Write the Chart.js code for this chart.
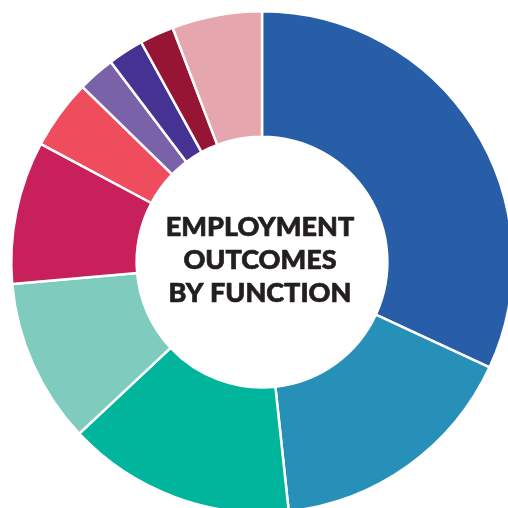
<!DOCTYPE html>
<html>
<head>
<meta charset="utf-8">
<script src="https://cdn.jsdelivr.net/npm/chart.js@4"></script>
<style>
    html, body { margin: 0; padding: 0; background: #ffffff; overflow: hidden; }
    #wrap { width: 524px; height: 524px; }
</style>
</head>
<body>
<div id="wrap"><canvas id="chart" width="524" height="524"></canvas></div>
<script>
// Shares by function (percent), read clockwise from 12 o'clock
const functions = ['Consulting', 'Finance', 'Marketing', 'General Management', 'Operations',
    'Technology', 'Strategy', 'Sales', 'Human Resources', 'Other'];
const shares = [31.9, 16.4, 14.7, 10.6, 9.2, 4.5, 2.4, 2.3, 2.2, 5.8];
const sliceColors = ['#285ea8', '#2690b8', '#00b59c', '#7fcbbd', '#c7205b',
    '#ef4c5e', '#7a62a8', '#453292', '#961535', '#e6a6ad'];
const centerLines = ['EMPLOYMENT', 'OUTCOMES', 'BY FUNCTION'];

// Title in the hole of the doughnut
const centerText = {
    id: 'centerText',
    afterDraw(chart) {
        const ctx = chart.ctx;
        const arc = chart.getDatasetMeta(0).data[0];
        const x = arc.x, y = arc.y;
        ctx.save();
        ctx.fillStyle = '#231f20';
        ctx.strokeStyle = '#231f20';
        ctx.lineWidth = 0.7;
        ctx.lineJoin = 'round';
        ctx.font = '900 27px Lato';
        ctx.textAlign = 'center';
        ctx.textBaseline = 'middle';
        const step = 33;
        centerLines.forEach((line, i) => {
            ctx.fillText(line, x - 2, y + (i - 1) * step - 2);
            ctx.strokeText(line, x - 2, y + (i - 1) * step - 2);
        });
        ctx.restore();
    }
};

new Chart(document.getElementById('chart'), {
    type: 'doughnut',
    data: {
        labels: functions,
        datasets: [{
            data: shares,
            backgroundColor: sliceColors,
            borderColor: '#ffffff',
            borderWidth: 2.5
        }]
    },
    options: {
        responsive: false,
        animation: false,
        cutout: '50%',
        layout: { padding: 10 },
        plugins: {
            legend: { display: false },
            tooltip: { enabled: false }
        }
    },
    plugins: [centerText]
});
</script>
</body>
</html>
